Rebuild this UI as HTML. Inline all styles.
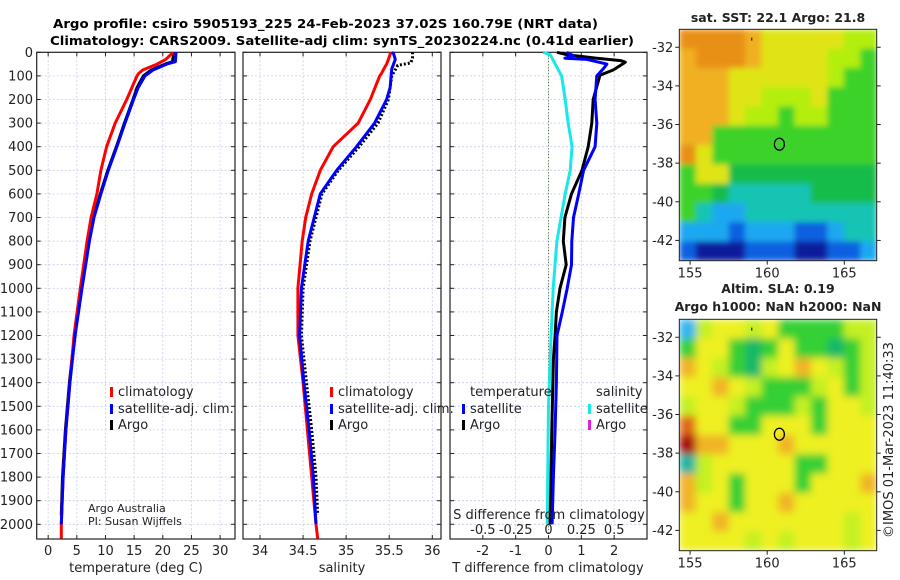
<!DOCTYPE html>
<html><head><meta charset="utf-8">
<style>
html,body{margin:0;padding:0;background:#fff;}
svg{display:block;font-family:"DejaVu Sans","Liberation Sans",sans-serif;}
</style></head>
<body>
<svg id="fig" width="900" height="580" viewBox="0 0 900 580" xmlns="http://www.w3.org/2000/svg">
<defs>
<filter id="blurSST" x="0" y="0" width="1" height="1"><feGaussianBlur stdDeviation="3" edgeMode="duplicate"/></filter>
<filter id="blurSLA" x="0" y="0" width="1" height="1"><feGaussianBlur stdDeviation="4" edgeMode="duplicate"/></filter>
<clipPath id="clipM1"><rect x="679.3" y="29.3" width="197.4" height="231.4"/></clipPath>
<clipPath id="clipM2"><rect x="679.3" y="319.3" width="197.4" height="231.4"/></clipPath>
</defs>
<rect x="0" y="0" width="900" height="580" fill="#fff"/>
<text x="53" y="28" font-size="12.5" font-weight="bold" textLength="545" lengthAdjust="spacingAndGlyphs">Argo profile: csiro 5905193_225 24-Feb-2023 37.02S 160.79E (NRT data)</text>
<text x="50" y="45" font-size="12.5" font-weight="bold" textLength="584" lengthAdjust="spacingAndGlyphs">Climatology: CARS2009. Satellite-adj clim: synTS_20230224.nc (0.41d earlier)</text>
<g id="root"></g>
</svg>
<script>
// ---------- DATA ----------
const depthTicks = [0,100,200,300,400,500,600,700,800,900,1000,1100,1200,1300,1400,1500,1600,1700,1800,1900,2000];
const tempTicks = [0,5,10,15,20,25,30];
const salTicks = [34,34.5,35,35.5,36];
const tdiffTicks = [-2,-1,0,1,2];
const sdiffTicks = [-0.5,-0.25,0,0.25,0.5];
const sdiffTickLabels = ["-0.5","-0.25","0","0.25","0.5"];

const climDepth = [0,30,50,75,90,100,200,300,400,500,600,700,800,1000,1200,1400,1600,1800,2000,2060];
const climTemp  = [21.8,20.5,19,16.5,15.8,15.5,13.7,11.7,10.2,9.2,8.5,7.5,6.8,5.6,4.5,3.8,3.1,2.6,2.3,2.3];
const climSal   = [35.52,35.49,35.47,35.43,35.41,35.39,35.28,35.14,34.85,34.70,34.60,34.53,34.49,34.44,34.44,34.50,34.55,34.60,34.65,34.67];

const satDepth = [0,40,50,75,100,150,200,300,400,500,600,700,800,1000,1200,1400,1600,1800,2000];
const satTemp  = [22.3,22.2,20.7,18.3,16.9,15.7,14.9,13.4,12.0,10.5,9.2,8.0,7.2,5.9,4.7,3.8,3.1,2.6,2.3];
const satSalDepth = [0,5,30,70,150,200,300,400,500,600,800,1000,1200,1400,1600,1800,2000];
const satSal   = [35.53,35.55,35.57,35.53,35.51,35.47,35.33,35.12,34.89,34.70,34.56,34.48,34.46,34.51,34.57,34.62,34.65];

const argoDepth = [0,40,50,75,100,150,200,300,400,500,600,700,800,1000,1200,1400,1600,1800,1960];
const argoTemp  = [21.9,21.7,20.4,18.0,16.6,15.5,14.8,13.3,11.9,10.4,9.1,7.9,7.1,5.8,4.6,3.7,3.0,2.5,2.3];
const argoSalDepth = [0,25,45,55,100,200,300,400,500,600,800,1000,1200,1400,1600,1800,1960];
const argoSal  = [35.77,35.77,35.75,35.60,35.53,35.49,35.37,35.15,34.91,34.72,34.58,34.50,34.48,34.54,34.60,34.65,34.67];

const tdiffArgoDepth = [0,10,25,35,42,75,97,200,300,400,500,600,700,800,900,1000,1100,1200,1300,1600,2000];
const tdiffArgo = [0.26,0.56,1.47,2.2,2.34,1.97,1.57,1.36,1.32,1.21,1.02,0.7,0.5,0.45,0.54,0.35,0.24,0.2,0.15,0.1,0.05];
const tdiffSatDepth = [0,15,25,30,50,70,100,200,300,400,500,600,700,800,900,1000,1100,1200,1400,1600,1800,2000];
const tdiffSat = [0.56,0.76,0.5,1.17,1.78,1.67,1.47,1.42,1.47,1.42,1.07,0.92,0.76,0.71,0.7,0.57,0.42,0.26,0.24,0.2,0.15,0.11];
const sdiffSatDepth = [0,10,100,200,300,400,500,600,800,1000,1200,1500,2000];
const sdiffSat = [-0.04,0.013,0.10,0.127,0.15,0.18,0.165,0.127,0.064,0.036,0.02,0.0,-0.01];

const mapLonTicks = [155,160,165];
const mapLatTicks = [-32,-34,-36,-38,-40,-42];
const floatLon = 160.79, floatLat = -37.02;
const sstGrid = [
"OOOOoYYYYYLL",
"oOOOoYYYYLLG",
"oooYYYYYYLGG",
"oooYYLLLYGGG",
"oooYLLGLLGGG",
"ooGGGGGGGGGG",
"OYGGGGGGGGGG",
"GYYggggggggg",
"GGgCCCCCgggg",
"GCBBCCCCCCCC",
"BBBbBBBbbBCC",
"bNNNbbbNNbbB"];
const slaGrid = [
"BLYYLYGGGGLL",
"GYYGgGYGGgGL",
"oYLGgLYoYLGL",
"YYoYLGGGLYGL",
"LYYLGGGLGYYL",
"rYYGGYYYGYYY",
"RooYYYoYYYYY",
"CLYYYYYGGYYY",
"oLYGYYYGYYYo",
"oYYGYYoYYYYY",
"YYoYYYYYYYLY",
"YYYYLYLYYYLY"];
const sstColors = {O:"#e89018",o:"#f0b020",Y:"#e0e418",L:"#b4ee10",G:"#3cd22c",g:"#18bc48",C:"#18c4b4",B:"#1ca8f0",b:"#1060e0",N:"#0a1c9c"};
const slaColors = {Y:"#eef020",L:"#c4f020",G:"#34d034",g:"#18b868",o:"#f0b428",r:"#e06818",R:"#a81010",C:"#1cb4a0",B:"#30b4f0"};

// ---------- HELPERS ----------
const NS="http://www.w3.org/2000/svg";
const root=document.getElementById('root');
function el(tag,attrs,parent){const e=document.createElementNS(NS,tag);for(const k in attrs)e.setAttribute(k,attrs[k]);(parent||root).appendChild(e);return e;}
const PT=52.3, PB=539, DPX=0.236;
const yD = d => PT + d*DPX;
function lin(d0,d1,r0,r1){return v=>r0+(v-d0)*(r1-r0)/(d1-d0);}

function panel(name,x0,x1,xs,xticks,xlabels,showY){
  const g=el('g',{});
  
  
  xticks.forEach(t=>{const l=el('line',{x1:xs(t),x2:xs(t),y1:PT,y2:PB,stroke:'#c4cce8','stroke-width':0.8,'stroke-dasharray':'2,2'},g);
    });
  depthTicks.forEach(d=>{const l=el('line',{x1:x0,x2:x1,y1:yD(d),y2:yD(d),stroke:'#c4cce8','stroke-width':0.8,'stroke-dasharray':'2,2'},g);
    });
  depthTicks.forEach(d=>{el('line',{x1:x0,x2:x0+4,y1:yD(d),y2:yD(d),stroke:'#222'},g);el('line',{x1:x1,x2:x1-4,y1:yD(d),y2:yD(d),stroke:'#222'},g);
    if(showY){const t=el('text',{x:33,y:yD(d)+4.5,'font-size':13,'text-anchor':'end',fill:'#222'},g);t.textContent=d;
      }});
  xticks.forEach((t,i)=>{el('line',{x1:xs(t),x2:xs(t),y1:PB,y2:PB-4,stroke:'#222'},g);el('line',{x1:xs(t),x2:xs(t),y1:PT,y2:PT+4,stroke:'#222'},g);
    const tx=el('text',{x:xs(t),y:555,'font-size':13,'text-anchor':'middle',fill:'#222'},g);tx.textContent=xlabels[i];
    });
  const f=el('rect',{x:x0,y:PT,width:x1-x0,height:PB-PT,fill:'none',stroke:'#222','stroke-width':1.2},g);
  
  return g;
}
function series(name,g,xs,xv,dv,color,w,dash){
  const p=xv.map((v,i)=>(i?'L':'M')+xs(v).toFixed(1)+','+yD(dv[i]).toFixed(1)).join('');
  const a={d:p,fill:'none',stroke:color,'stroke-width':w,'stroke-linejoin':'round'};
  if(dash)a['stroke-dasharray']=dash;
  const e=el('path',a,g);
  
  
}
function label(name,g,x,y,txt,size,anchor){const t=el('text',{x:x,y:y,'font-size':size||13,'text-anchor':anchor||'start',fill:'#222'},g);t.textContent=txt;
  return t;}
function legendEntry(name,g,mx,tx,y,color,txt){
  const r=el('rect',{x:mx,y:y-9,width:3,height:10,fill:color},g);
  
  label(name,g,tx,y,txt,13);
}

// ---------- PANEL 1 ----------
const xT=lin(-2,32.6,36.7,235);
const g1=panel('temperature-panel',36.7,235,xT,tempTicks,tempTicks.map(String),true);
series('argo-temperature-line',g1,xT,argoTemp,argoDepth,'#000',3);
series('climatology-temperature-line',g1,xT,climTemp,climDepth,'#f00',3);
series('satellite-temperature-line',g1,xT,satTemp,satDepth,'#00f',3);
legendEntry('legend-climatology',g1,110,118,396,'#f00','climatology');
legendEntry('legend-satellite-adj',g1,110,118,413,'#00f','satellite-adj. clim.');
legendEntry('legend-argo',g1,110,118,429,'#000','Argo');
label('credit-argo-australia',g1,88,512,'Argo Australia',11);
label('credit-pi',g1,88,525,'PI: Susan Wijffels',11);
label('x-axis-title-temperature',g1,136,572,'temperature (deg C)',13,'middle');

// ---------- PANEL 2 ----------
const xS=lin(34,36,260,432.3);
const g2=panel('salinity-panel',243,441,xS,salTicks,["34","34.5","35","35.5","36"],false);
series('argo-salinity-line',g2,xS,argoSal,argoSalDepth,'#000',3,'2,2');
series('climatology-salinity-line',g2,xS,climSal,climDepth,'#f00',3);
series('satellite-salinity-line',g2,xS,satSal,satSalDepth,'#00f',3);
legendEntry('legend-climatology-2',g2,330,338,396,'#f00','climatology');
legendEntry('legend-satellite-adj-2',g2,330,338,413,'#00f','satellite-adj. clim.');
legendEntry('legend-argo-2',g2,330,338,429,'#000','Argo');
label('x-axis-title-salinity',g2,342,572,'salinity',13,'middle');

// ---------- PANEL 3 ----------
const xTD=lin(-3,3,450,647);
const xSD=lin(-0.75,0.75,450,647);
const g3=panel('difference-panel',450,647,xTD,tdiffTicks,tdiffTicks.map(String),false);
const z=el('line',{x1:xTD(0),x2:xTD(0),y1:PT,y2:PB,stroke:'#4a6a30','stroke-width':1,'stroke-dasharray':'1,2'},g3);

series('salinity-diff-satellite-line',g3,xSD,sdiffSat,sdiffSatDepth,'#18e8e8',3);
series('temperature-diff-argo-line',g3,xTD,tdiffArgo,tdiffArgoDepth,'#000',3);
series('temperature-diff-satellite-line',g3,xTD,tdiffSat,tdiffSatDepth,'#00f',3);
label('legend-temperature-header',g3,470,396,'temperature',13);
legendEntry('legend-t-satellite',g3,462,470,413,'#00f','satellite');
legendEntry('legend-t-argo',g3,462,470,429,'#000','Argo');
label('legend-salinity-header',g3,596,396,'salinity',13);
legendEntry('legend-s-satellite',g3,588,596,413,'#18e8e8','satellite');
legendEntry('legend-s-argo',g3,588,596,429,'#e020e0','Argo');
label('s-axis-title',g3,549,519,'S difference from climatology',13,'middle');
sdiffTicks.forEach((t,i)=>{label('s-tick-label',g3,xSD(t),534,sdiffTickLabels[i],13,'middle');});
label('x-axis-title-tdiff',g3,548,572,'T difference from climatology',13,'middle');

// ---------- MAPS ----------
const MX0=679.3, MX1=876.7;
const mx=lin(154.3,167.1,MX0,MX1);
function map(name,grid,colors,y0,y1,filterId,clipId){
  const g=el('g',{});
  
  
  const my=lin(-31.07,-43.05,y0,y1);
  const rows=grid.length, cols=grid[0].length;
  const cw=(MX1-MX0)/cols, ch=(y1-y0)/rows;
  const cg=el('g',{'clip-path':'url(#'+clipId+')'},g);
  const img=el('g',{filter:'url(#'+filterId+')'},cg);
  grid.forEach((row,r)=>{for(let c=0;c<cols;c++){
    el('rect',{x:(MX0+c*cw).toFixed(2),y:(y0+r*ch).toFixed(2),width:(cw+0.6).toFixed(2),height:(ch+0.6).toFixed(2),fill:colors[row[c]]},img);}});
  const f=el('rect',{x:MX0,y:y0,width:MX1-MX0,height:y1-y0,fill:'none',stroke:'#222','stroke-width':1},g);
  
  mapLonTicks.forEach(t=>{el('line',{x1:mx(t),x2:mx(t),y1:y1,y2:y1+4,stroke:'#222'},g);
    label('map-lon-label',g,mx(t),y1+17,String(t),13,'middle');});
  mapLatTicks.forEach(t=>{el('line',{x1:MX0-4,x2:MX0,y1:my(t),y2:my(t),stroke:'#222'},g);el('line',{x1:MX1,x2:MX1+4,y1:my(t),y2:my(t),stroke:'#222'},g);
    label('map-lat-label',g,MX0-6,my(t)+4.5,String(t),13,'end');});
  const c=el('ellipse',{cx:mx(floatLon),cy:my(floatLat),rx:5,ry:6,fill:'none',stroke:'#000','stroke-width':1.3},g);
  
  el('line',{x1:mx(159),x2:mx(159),y1:my(-31.5),y2:my(-31.5)+3,stroke:'#000','stroke-width':1},g);
  return {g,y0};
}
const m1=map('sst-map',sstGrid,sstColors,29.3,260.7,'blurSST','clipM1');
const t1=label('sst-map-title',m1.g,778,22,'sat. SST: 22.1 Argo: 21.8',12.5,'middle');t1.setAttribute('font-weight','bold');
const m2=map('sla-map',slaGrid,slaColors,319.3,550.7,'blurSLA','clipM2');
const t2=label('sla-map-title-1',m2.g,778,293,'Altim. SLA: 0.19',12.5,'middle');t2.setAttribute('font-weight','bold');
const t3=label('sla-map-title-2',m2.g,778,311,'Argo h1000: NaN h2000: NaN',12.5,'middle');t3.setAttribute('font-weight','bold');
const v=label('imos-timestamp',root,0,0,'©IMOS 01-Mar-2023 11:40:33',13,'middle');
v.setAttribute('transform','translate(893,440) rotate(-90)');
</script>
</body></html>
